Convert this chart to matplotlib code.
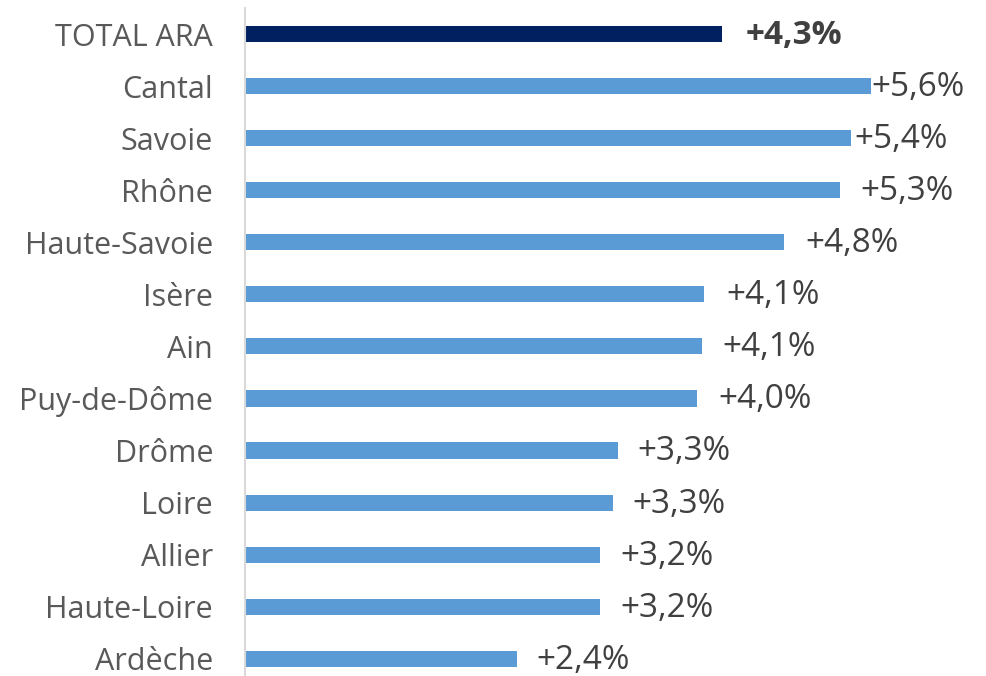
import matplotlib.pyplot as plt
import numpy as np

plt.rcParams['font.family'] = ['Open Sans', 'DejaVu Sans']

# Data (growth rate, %)
categories = ['TOTAL ARA', 'Cantal', 'Savoie', 'Rhône', 'Haute-Savoie', 'Isère', 'Ain',
              'Puy-de-Dôme', 'Drôme', 'Loire', 'Allier', 'Haute-Loire', 'Ardèche']
values = [4.28, 5.62, 5.44, 5.34, 4.84, 4.12, 4.10, 4.06, 3.35, 3.30, 3.19, 3.19, 2.44]
value_labels = ['+4,3%', '+5,6%', '+5,4%', '+5,3%', '+4,8%', '+4,1%', '+4,1%',
                '+4,0%', '+3,3%', '+3,3%', '+3,2%', '+3,2%', '+2,4%']

# label gap after each bar, in points
label_pads = [17, 0, 2, 15, 15, 16, 15, 15, 14, 14, 14, 14, 14]
bar_colors = ['#002060'] + ['#5b9bd5'] * (len(categories) - 1)

fig = plt.figure(figsize=(9.86, 6.76), dpi=100)
ax = fig.add_axes([245 / 986, 0, 1 - 245 / 986, 1 - 8 / 676])

y = np.arange(len(categories))
bars = ax.barh(y, values, height=0.31, color=bar_colors)

for i, (bar, lab) in enumerate(zip(bars, value_labels)):
    ax.annotate(lab, (bar.get_width(), bar.get_y() + bar.get_height() / 2),
                xytext=(label_pads[i], -1), textcoords='offset points',
                ha='left', va='center', fontsize=24,
                color='#404040', fontweight='bold' if i == 0 else 'normal')

ax.set_yticks(y)
ax.set_yticklabels(categories, fontsize=22, color='#595959')
ax.tick_params(axis='y', length=0, pad=23)
ax.set_xticks([])
ax.set_xlim(0, 6.65)
ax.set_ylim(12.33, -0.5)

for side in ['top', 'right', 'bottom']:
    ax.spines[side].set_visible(False)
ax.spines['left'].set_color('#d9d9d9')
ax.spines['left'].set_linewidth(1.5)

fig.savefig('out.png', dpi=100)
